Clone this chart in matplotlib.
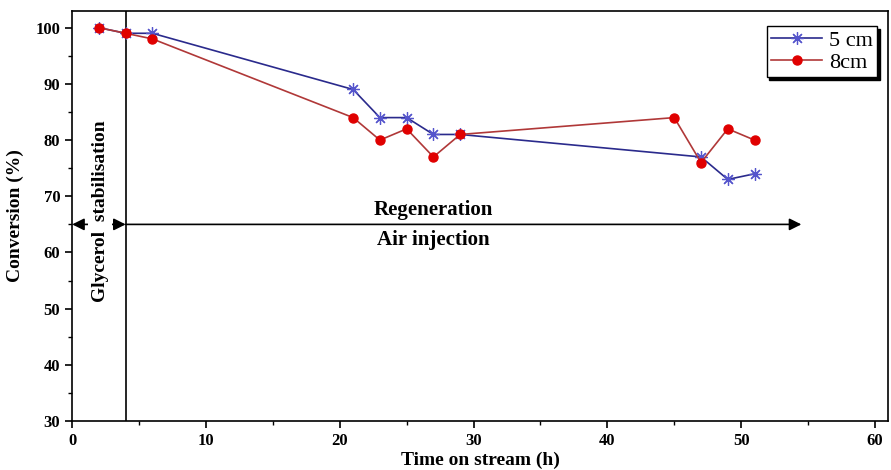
import matplotlib
matplotlib.use("Agg")
import matplotlib.pyplot as plt
from matplotlib.ticker import MultipleLocator

plt.rcParams['font.family'] = ['Liberation Serif', 'DejaVu Serif']

# data
time_5cm = [2, 4, 6, 21, 23, 25, 27, 29, 47, 49, 51]
conv_5cm = [100, 99, 99, 89, 84, 84, 81, 81, 77, 73, 74]
time_8cm = [2, 4, 6, 21, 23, 25, 27, 29, 45, 47, 49, 51]
conv_8cm = [100, 99, 98, 84, 80, 82, 77, 81, 84, 76, 82, 80]

fig = plt.figure(figsize=(8.91, 4.70), dpi=100)
ax = fig.add_axes([0.081, 0.104, 0.916, 0.873])

ax.plot(time_5cm, conv_5cm, color='#2a2a8c', lw=1.2, marker=(8, 2, 0),
        ms=9, mec='#5555cc', mew=0.9, label='5 cm', zorder=3)
ax.plot(time_8cm, conv_8cm, color='#b03838', lw=1.2, marker='o',
        ms=6.5, mfc='#e00000', mec='#e00000', label='8cm', zorder=4)

ax.set_xlim(0, 61)
ax.set_ylim(30, 103)
ax.xaxis.set_major_locator(MultipleLocator(10))
ax.xaxis.set_minor_locator(MultipleLocator(5))
ax.yaxis.set_major_locator(MultipleLocator(10))
ax.yaxis.set_minor_locator(MultipleLocator(5))
ax.tick_params(which='major', direction='out', length=5, width=1.2, labelsize=12)
ax.tick_params(which='minor', direction='out', length=3, width=1.0)
for lab in ax.get_xticklabels() + ax.get_yticklabels():
    lab.set_fontweight('bold')
for sp in ax.spines.values():
    sp.set_linewidth(1.2)

ax.set_xlabel('Time on stream (h)', fontsize=14, fontweight='bold', labelpad=2)
ax.set_ylabel('Conversion (%)', fontsize=14, fontweight='bold', labelpad=8)

# phase separation and arrows
ax.axvline(4, color='black', lw=1.2)
ax.annotate('', xy=(0, 65), xytext=(4, 65),
            arrowprops=dict(arrowstyle='<|-|>', color='black', lw=1.2,
                            mutation_scale=18, shrinkA=0, shrinkB=0))
ax.annotate('', xy=(54.5, 65), xytext=(4, 65),
            arrowprops=dict(arrowstyle='-|>', color='black', lw=1.2,
                            mutation_scale=18, shrinkA=0, shrinkB=0))
ax.text(2.1, 67.4, 'Glycerol  stabilisation', rotation=90, ha='center', va='center',
        fontsize=14, fontweight='bold', zorder=5,
        bbox=dict(facecolor='white', edgecolor='none', pad=2.5))
ax.text(27, 65.8, 'Regeneration', ha='center', va='bottom', fontsize=15, fontweight='bold')
ax.text(27, 64, 'Air injection', ha='center', va='top', fontsize=15, fontweight='bold')

leg = ax.legend(loc='upper right', fontsize=16, frameon=True, fancybox=False,
                shadow=dict(color='black', alpha=1), handlelength=2.3,
                borderpad=0.2, labelspacing=0.05, handletextpad=0.3,
                bbox_to_anchor=(1.0, 0.99))
leg.get_frame().set_edgecolor('black')
leg.get_frame().set_linewidth(1.0)

fig.savefig('out.png', dpi=100)
